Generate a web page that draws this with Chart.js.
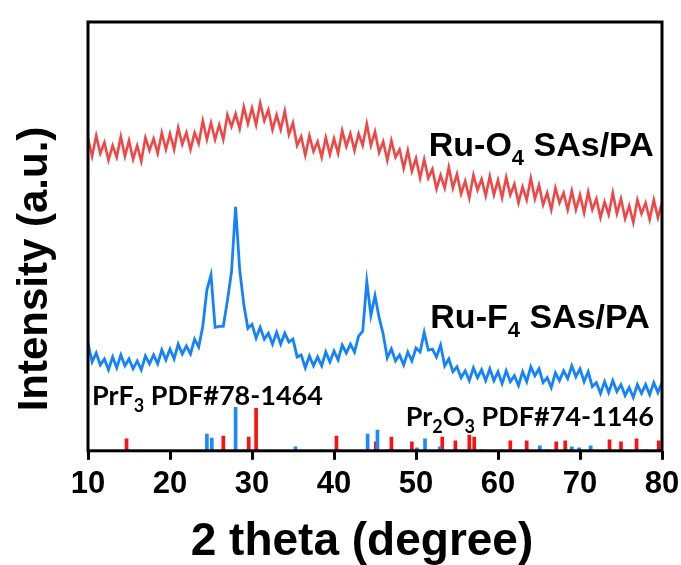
<!DOCTYPE html>
<html>
<head>
<meta charset="utf-8">
<script src="https://cdn.jsdelivr.net/npm/chart.js@4.4.1/dist/chart.umd.min.js"></script>
<style>
  html, body { margin: 0; padding: 0; background: #fff; }
  #wrap { width: 681px; height: 565px; }
</style>
</head>
<body>
<div id="wrap"><canvas id="xrd" width="681" height="565"></canvas></div>
<script>
// 2 theta grid (degree)
const theta = [
  10, 10.5, 11, 11.5, 12, 12.5, 13, 13.5, 14, 14.5, 15, 15.5, 16, 16.5, 17, 17.5, 18, 18.5, 19, 19.5,
  20, 20.5, 21, 21.5, 22, 22.5, 23, 23.5, 24, 24.5, 25, 25.5, 26, 26.5, 27, 27.5, 28, 28.5, 29, 29.5,
  30, 30.5, 31, 31.5, 32, 32.5, 33, 33.5, 34, 34.5, 35, 35.5, 36, 36.5, 37, 37.5, 38, 38.5, 39, 39.5,
  40, 40.5, 41, 41.5, 42, 42.5, 43, 43.5, 44, 44.5, 45, 45.5, 46, 46.5, 47, 47.5, 48, 48.5, 49, 49.5,
  50, 50.5, 51, 51.5, 52, 52.5, 53, 53.5, 54, 54.5, 55, 55.5, 56, 56.5, 57, 57.5, 58, 58.5, 59, 59.5,
  60, 60.5, 61, 61.5, 62, 62.5, 63, 63.5, 64, 64.5, 65, 65.5, 66, 66.5, 67, 67.5, 68, 68.5, 69, 69.5,
  70, 70.5, 71, 71.5, 72, 72.5, 73, 73.5, 74, 74.5, 75, 75.5, 76, 76.5, 77, 77.5, 78, 78.5, 79, 79.5,
  80
];

// Ru-O4 SAs/PA (offset pattern, a.u.)
const ruO4 = [
  316, 298, 319, 301, 312, 294, 309, 297, 318, 298, 314, 295, 309, 293, 317, 304, 316, 301, 322, 305,
  321, 305, 327, 310, 322, 305, 322, 311, 334, 315, 332, 315, 330, 315, 340, 328, 341, 326, 348, 331,
  347, 330, 352, 334, 345, 325, 340, 325, 344, 320, 332, 309, 318, 299, 319, 303, 313, 297, 317, 300,
  316, 301, 324, 308, 321, 304, 321, 309, 331, 309, 323, 302, 313, 294, 314, 297, 305, 286, 304, 283,
  296, 276, 295, 276, 285, 265, 279, 266, 287, 266, 280, 260, 273, 256, 279, 264, 275, 258, 278, 259,
  274, 256, 277, 259, 270, 251, 267, 254, 276, 255, 269, 249, 261, 244, 266, 251, 261, 244, 263, 244,
  259, 241, 262, 244, 255, 236, 252, 239, 261, 240, 255, 235, 248, 231, 254, 240, 251, 234, 254, 236,
  251
];

// Ru-F4 SAs/PA
const ruF4 = [
  109, 90, 99, 87, 93, 82, 95, 84, 97, 86, 93, 83, 91, 82, 96, 88, 97, 88, 102, 92,
  103, 93, 108, 98, 106, 98, 113, 105, 126, 163, 178, 125, 126, 126, 152, 181, 247, 183, 148, 124,
  128, 114, 125, 113, 119, 108, 120, 108, 119, 110, 113, 95, 97, 84, 96, 86, 95, 86, 100, 90,
  101, 92, 107, 99, 108, 100, 116, 121, 171, 137, 157, 135, 118, 94, 103, 91, 97, 87, 100, 91,
  104, 100, 120, 102, 103, 95, 107, 86, 93, 80, 85, 74, 81, 71, 84, 74, 82, 71, 83, 71,
  80, 68, 81, 70, 76, 66, 80, 70, 85, 76, 83, 69, 74, 64, 79, 71, 81, 73, 86, 75,
  83, 70, 80, 65, 69, 58, 70, 59, 71, 60, 67, 56, 64, 54, 67, 58, 67, 57, 69, 59,
  69
];

// PrF3 PDF#78-1464 reference lines
const prf3Pos = [24.5, 25.1, 28.0, 29.0, 35.3, 38.4, 40.6, 44.1, 45.3, 46.5, 50.1, 51.1, 52.9, 58.0, 60.5, 65.1, 66.0, 69.0, 69.9, 71.3, 78.0];
const prf3Int = [17, 13, 44, 1, 4, 1, 1, 17, 21, 1, 3, 12, 4, 1, 1, 5, 1, 4, 3, 5, 1];

// Pr2O3 PDF#74-1146 reference lines
const pr2o3Pos = [14.7, 26.5, 29.6, 30.5, 40.3, 45.1, 47.0, 49.5, 53.2, 54.8, 56.5, 57.1, 61.5, 63.5, 67.1, 68.2, 73.6, 75.0, 76.9, 79.6];
const pr2o3Int = [12, 15, 14, 43, 15, 9, 14, 9, 14, 10, 16, 14, 10, 10, 9, 10, 11, 9, 12, 10];

const xTicks = [10, 20, 30, 40, 50, 60, 70, 80];

const BOLD = 'bold ';
const SANS = '"Liberation Sans", Arial, sans-serif';
const PDF_FONT = 'Lato, "Noto Sans", sans-serif';

// text labels: runs of [text, isSubscript], anchor in data coords
const curveLabels = [
  { runs: [['Ru-O', 0], ['4', 1], [' SAs/PA', 0]], x: 79.0, y: 298, align: 'right', size: 34, family: SANS },
  { runs: [['Ru-F', 0], ['4', 1], [' SAs/PA', 0]], x: 78.5, y: 124, align: 'right', size: 34, family: SANS },
  { runs: [['PrF', 0], ['3', 1], [' PDF#78-1464', 0]], x: 10.5, y: 46, align: 'left', size: 27, family: PDF_FONT },
  { runs: [['Pr', 0], ['2', 1], ['O', 0], ['3', 1], [' PDF#74-1146', 0]], x: 79.0, y: 25, align: 'right', size: 27, family: PDF_FONT }
];

function drawRuns(ctx, lab, px, py) {
  const big = BOLD + lab.size + 'px ' + lab.family;
  const small = BOLD + Math.round(lab.size * 0.65) + 'px ' + lab.family;
  let total = 0;
  lab.runs.forEach(r => { ctx.font = r[1] ? small : big; total += ctx.measureText(r[0]).width; });
  let x = lab.align === 'right' ? px - total : px;
  ctx.textAlign = 'left';
  ctx.textBaseline = 'alphabetic';
  lab.runs.forEach(r => {
    ctx.font = r[1] ? small : big;
    ctx.fillText(r[0], x, r[1] ? py + lab.size * 0.25 : py);
    x += ctx.measureText(r[0]).width;
  });
}

const decor = {
  id: 'decor',
  afterDraw(chart) {
    const { ctx, chartArea: a, scales } = chart;
    ctx.save();
    ctx.strokeStyle = '#000';
    ctx.lineWidth = 3;
    ctx.strokeRect(a.left, a.top, a.right - a.left, a.bottom - a.top);
    ctx.fillStyle = '#000';
    curveLabels.forEach(l => drawRuns(ctx, l, scales.x.getPixelForValue(l.x), scales.y.getPixelForValue(l.y)));
    // axis titles
    ctx.font = BOLD + '46px ' + SANS;
    ctx.textAlign = 'center';
    ctx.textBaseline = 'alphabetic';
    ctx.fillText('2 theta (degree)', 362, 555);
    ctx.translate(35, 269);
    ctx.rotate(-Math.PI / 2);
    ctx.font = BOLD + '42px ' + SANS;
    ctx.textBaseline = 'middle';
    ctx.fillText('Intensity (a.u.)', 0, 0);
    ctx.restore();
  }
};

const sticks = (pos, val) => pos.map((p, i) => ({ x: p, y: val[i] }));

new Chart(document.getElementById('xrd'), {
  type: 'line',
  data: {
    labels: theta,
    datasets: [
      { label: 'Ru-O4 SAs/PA', data: ruO4, borderColor: '#f04646', borderWidth: 2.6, pointRadius: 0, tension: 0 },
      { label: 'Ru-F4 SAs/PA', data: ruF4, borderColor: '#1482ff', borderWidth: 2.8, pointRadius: 0, tension: 0 },
      { type: 'bar', label: 'PrF3', data: sticks(prf3Pos, prf3Int), backgroundColor: '#1e88ff', barThickness: 3, grouped: false },
      { type: 'bar', label: 'Pr2O3', data: sticks(pr2o3Pos, pr2o3Int), backgroundColor: '#ff1010', barThickness: 3, grouped: false }
    ]
  },
  options: {
    responsive: false,
    animation: false,
    layout: { padding: { left: 88, top: 22, right: 19, bottom: 56 } },
    plugins: { legend: { display: false }, tooltip: { enabled: false } },
    scales: {
      x: {
        type: 'linear',
        min: 10, max: 80,
        offset: false,
        afterBuildTicks: s => { s.ticks = xTicks.map(v => ({ value: v })); },
        afterFit: s => { s.paddingLeft = 0; s.paddingRight = 0; },
        grid: { display: true, offset: false, drawOnChartArea: false, drawTicks: true, tickLength: 9, lineWidth: 3, color: '#000' },
        border: { display: false },
        ticks: { color: '#000', padding: 6, maxRotation: 0, font: { family: SANS, size: 31, weight: 'bold' } }
      },
      y: { display: false, min: 0, max: 434 }
    }
  },
  plugins: [decor]
});
</script>
</body>
</html>
